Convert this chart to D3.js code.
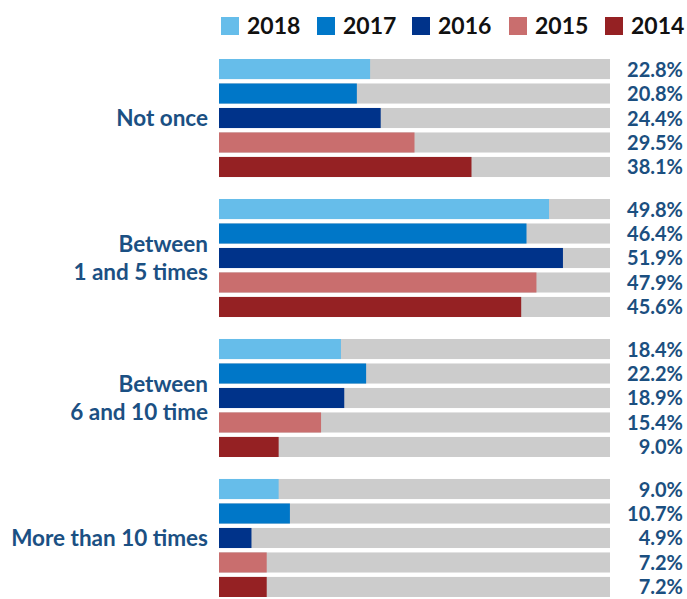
<!DOCTYPE html>
<html>
<head>
<meta charset="utf-8">
<script src="https://cdn.jsdelivr.net/npm/d3@7"></script>
<style>
  body { margin: 0; background: #fff; }
  text { font-family: Lato, "Open Sans", sans-serif; font-weight: 700; }
</style>
</head>
<body>
<div id="chart"></div>
<script>
// Categorias (cada linha do rótulo separada)
const categories = ["Not once", "Between 1 and 5 times", "Between 6 and 10 time", "More than 10 times"]
const categoryLines = [["Not once"], ["Between", "1 and 5 times"], ["Between", "6 and 10 time"], ["More than 10 times"]]
const years = ["2018", "2017", "2016", "2015", "2014"]
const yearColors = ["#66bdea", "#0077c8", "#00338a", "#c96e6e", "#952123"]

// Valores por ano (%), na ordem das categorias
const values2018 = [22.8, 49.8, 18.4, 9.0]
const values2017 = [20.8, 46.4, 22.2, 10.7]
const values2016 = [24.4, 51.9, 18.9, 4.9]
const values2015 = [29.5, 47.9, 15.4, 7.2]
const values2014 = [38.1, 45.6, 9.0, 7.2]
const valuesByYear = [values2018, values2017, values2016, values2015, values2014]

function drawChart() {
  const width = 687
  const height = 599

  const svg = d3.select("#chart")
    .append("svg")
    .attr("width", width)
    .attr("height", height)

  // Escalas
  const x = d3.scaleLinear().domain([0, 59]).range([219, 610])
  const yGroup = d3.scaleBand().domain(categories).range([59, 597]).paddingInner(0.157)
  const yBar = d3.scaleBand().domain(years).range([0, yGroup.bandwidth()]).paddingInner(0.18)
  const color = d3.scaleOrdinal().domain(years).range(yearColors)

  // Legenda
  const legendX = [221, 317, 412, 509, 605]
  const legend = svg.append("g")
  years.forEach((yr, i) => {
    legend.append("rect")
      .attr("x", legendX[i]).attr("y", 17)
      .attr("width", 18).attr("height", 18)
      .attr("fill", color(yr))
    legend.append("text")
      .attr("x", legendX[i] + 26).attr("y", 34)
      .attr("font-size", 23)
      .attr("fill", "#111")
      .text(yr)
  })

  // Grupos
  categories.forEach((cat, ci) => {
    const g = svg.append("g").attr("transform", "translate(0," + yGroup(cat) + ")")

    const rows = years.map((yr, yi) => ({ year: yr, value: valuesByYear[yi][ci] }))

    // Fundo cinza
    g.selectAll("rect.bg")
      .data(rows)
      .enter()
      .append("rect")
      .attr("class", "bg")
      .attr("x", x(0))
      .attr("y", (d) => yBar(d.year))
      .attr("width", x.range()[1] - x(0))
      .attr("height", yBar.bandwidth())
      .attr("fill", "#cccccc")

    // Barras
    g.selectAll("rect.bar")
      .data(rows)
      .enter()
      .append("rect")
      .attr("class", "bar")
      .attr("x", x(0))
      .attr("y", (d) => yBar(d.year))
      .attr("width", (d) => x(d.value) - x(0))
      .attr("height", yBar.bandwidth())
      .attr("fill", (d) => color(d.year))

    // Valores
    g.selectAll("text.val")
      .data(rows)
      .enter()
      .append("text")
      .attr("class", "val")
      .attr("x", 683)
      .attr("y", (d) => yBar(d.year) + yBar.bandwidth() / 2 + 7.5)
      .attr("text-anchor", "end")
      .attr("font-size", 20)
      .attr("fill", "#1b4f80")
      .text((d) => d.value.toFixed(1) + "%")

    // Rótulo da categoria
    const lines = categoryLines[ci]
    const mid = yGroup.bandwidth() / 2
    const lineH = 28
    lines.forEach((ln, li) => {
      g.append("text")
        .attr("x", 208)
        .attr("y", mid + (li - (lines.length - 1) / 2) * lineH + 8)
        .attr("text-anchor", "end")
        .attr("font-size", 22.5)
        .attr("fill", "#1b5083")
        .text(ln)
    })
  })
}

drawChart()
</script>
</body>
</html>
